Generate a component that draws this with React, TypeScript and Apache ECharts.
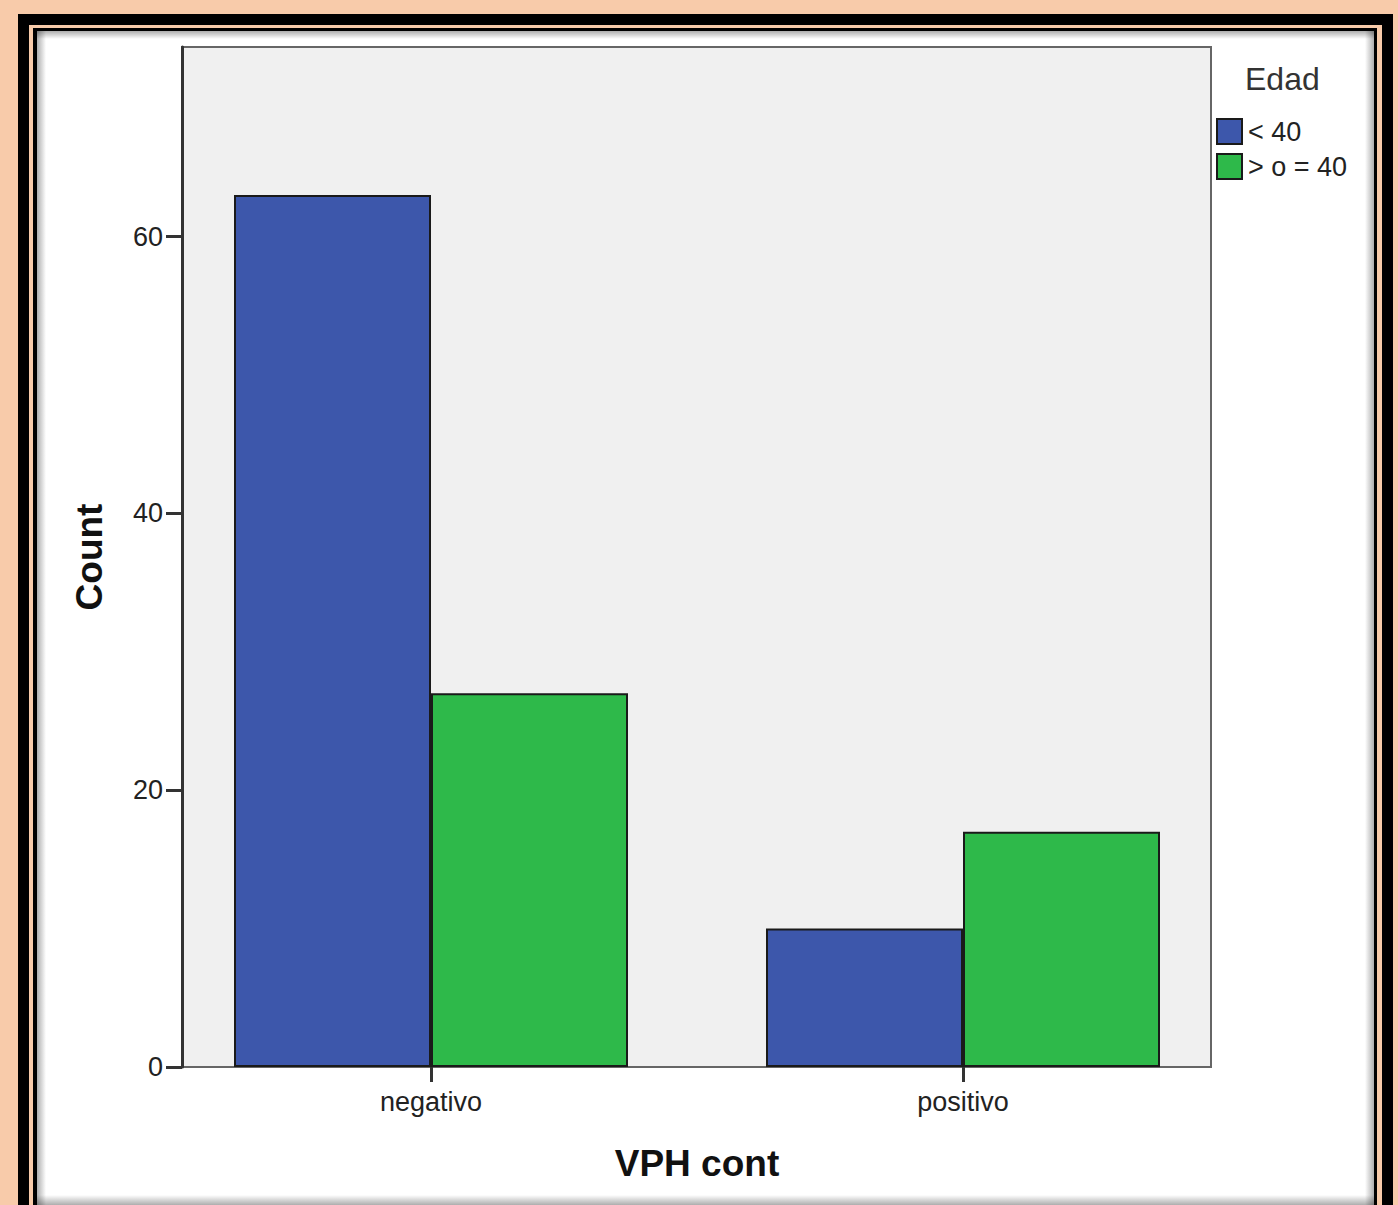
import React, { useEffect, useRef } from "react";
import * as echarts from "echarts";

const categories = ["negativo", "positivo"];
const seriesNames = ["< 40", "> o = 40"];
const under40 = [63, 10];
const over40 = [27, 17];
const yTicks = [0, 20, 40, 60];
const yMax = 73.7;

const FONT = "'Liberation Sans', Arial, sans-serif";

export default function App() {
  const ref = useRef<HTMLDivElement>(null);
  useEffect(() => {
    if (!ref.current) return;
    const chart = echarts.init(ref.current, null, { renderer: "svg" });
    const shadow = (x: number, y: number, w: number, h: number, dir: string) => {
      const c0 = "rgba(0,0,0,0.32)";
      const c1 = "rgba(0,0,0,0)";
      let g: any;
      if (dir === "left") g = new echarts.graphic.LinearGradient(0, 0, 1, 0, [{ offset: 0, color: c0 }, { offset: 1, color: c1 }]);
      else if (dir === "right") g = new echarts.graphic.LinearGradient(1, 0, 0, 0, [{ offset: 0, color: c0 }, { offset: 1, color: c1 }]);
      else if (dir === "top") g = new echarts.graphic.LinearGradient(0, 0, 0, 1, [{ offset: 0, color: c0 }, { offset: 1, color: c1 }]);
      else g = new echarts.graphic.LinearGradient(0, 1, 0, 0, [{ offset: 0, color: c0 }, { offset: 1, color: c1 }]);
      return { type: "rect", z: -6, silent: true, shape: { x, y, width: w, height: h }, style: { fill: g } };
    };
    chart.setOption({
      animation: false,
      backgroundColor: "#F8CBAA",
      textStyle: { fontFamily: FONT },
      graphic: [
        { type: "rect", z: -10, silent: true, shape: { x: 18, y: 14, width: 1375, height: 1300 }, style: { fill: "#000" } },
        { type: "rect", z: -9, silent: true, shape: { x: 29, y: 25, width: 1353, height: 1300 }, style: { fill: "#F8CBAA" } },
        { type: "rect", z: -8, silent: true, shape: { x: 33, y: 28, width: 1344, height: 1300 }, style: { fill: "#000" } },
        { type: "rect", z: -7, silent: true, shape: { x: 37, y: 31, width: 1337, height: 1300 }, style: { fill: "#fff" } },
        shadow(37, 31, 9, 1180, "left"),
        shadow(1365, 31, 9, 1180, "right"),
        shadow(37, 31, 1337, 8, "top"),
        shadow(37, 1195, 1337, 10, "bottom"),
        {
          type: "text",
          z: 10,
          left: 1245,
          top: 63,
          style: { text: "Edad", fontSize: 32, fill: "#333", fontFamily: FONT },
        },
      ],
      legend: {
        data: seriesNames,
        orient: "vertical",
        left: 1216,
        top: 118,
        padding: 0,
        itemWidth: 25,
        itemHeight: 25,
        itemGap: 8,
        icon: "rect",
        textStyle: { fontSize: 27, color: "#222", fontFamily: FONT, padding: [0, 0, 0, 1], lineHeight: 26 },
      },
      grid: [
        {
          left: 182,
          top: 47,
          width: 1029,
          height: 1020,
          show: true,
          backgroundColor: "#F0F0F0",
          borderColor: "#666",
          borderWidth: 2,
        },
        { left: 165, top: 47, width: 1064, height: 1020 },
      ],
      xAxis: [
        { type: "value", gridIndex: 0, show: false, min: 0, max: 1 },
        {
          type: "category",
          gridIndex: 1,
          data: categories,
          axisLine: { show: false },
          axisTick: { show: true, alignWithLabel: true, length: 15, lineStyle: { color: "#333", width: 3 } },
          axisLabel: { fontSize: 27, color: "#222", margin: 21, fontFamily: FONT },
          splitLine: { show: false },
          name: "VPH cont",
          nameLocation: "middle",
          nameGap: 78,
          nameTextStyle: { fontSize: 37, fontWeight: "bold", color: "#111", fontFamily: FONT },
        },
      ],
      yAxis: [
        {
          type: "value",
          gridIndex: 0,
          min: 0,
          max: yMax,
          interval: 20,
          axisLine: { show: true, lineStyle: { color: "#333", width: 3 } },
          axisTick: { show: true, length: 16, customValues: yTicks, lineStyle: { color: "#333", width: 3 } },
          axisLabel: { fontSize: 27, color: "#222", margin: 19, customValues: yTicks, fontFamily: FONT },
          splitLine: { show: false },
          name: "Count",
          nameLocation: "middle",
          nameRotate: 90,
          nameGap: 74,
          nameTextStyle: { fontSize: 37, fontWeight: "bold", color: "#111", fontFamily: FONT },
        },
        { type: "value", gridIndex: 1, min: 0, max: yMax, show: false },
      ],
      series: [
        {
          name: seriesNames[0],
          type: "bar",
          xAxisIndex: 1,
          yAxisIndex: 1,
          data: under40,
          barWidth: 197,
          barGap: "0%",
          itemStyle: { color: "#3D57AB", borderColor: "#1a1a1a", borderWidth: 2 },
        },
        {
          name: seriesNames[1],
          type: "bar",
          xAxisIndex: 1,
          yAxisIndex: 1,
          data: over40,
          barWidth: 197,
          barGap: "0%",
          itemStyle: { color: "#2EB94A", borderColor: "#1a1a1a", borderWidth: 2 },
        },
      ],
    });
    return () => chart.dispose();
  }, []);
  return (
    <div
      ref={ref}
      style={{ position: "absolute", left: 0, top: 0, width: 1398, height: 1205 }}
    />
  );
}
